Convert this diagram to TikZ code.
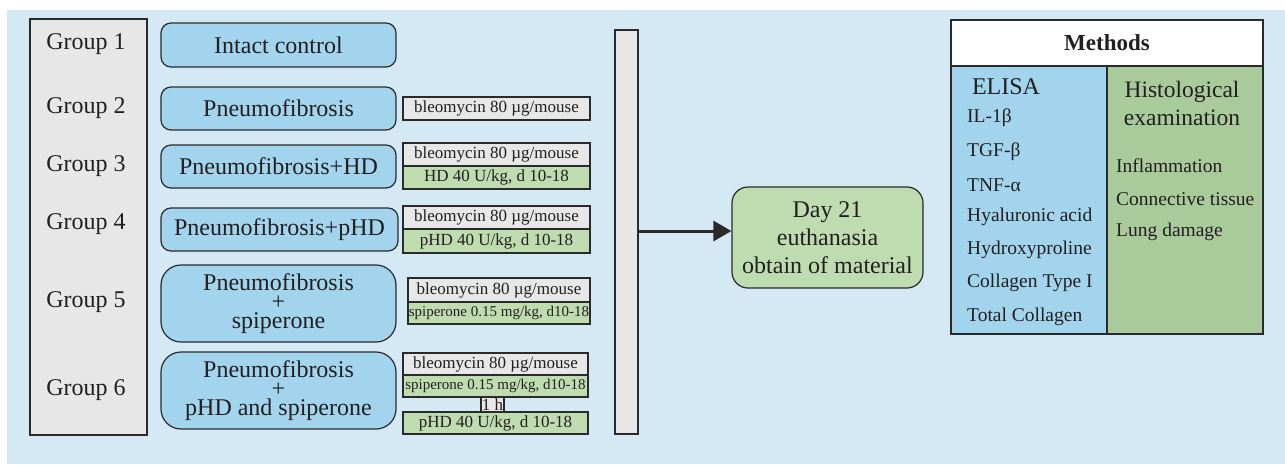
\documentclass[tikz,border=0pt]{standalone}
\usepackage{fontspec}
\setmainfont{Liberation Serif}
\usetikzlibrary{arrows.meta}
\definecolor{bgblue}{HTML}{D5E9F5}
\definecolor{boxblue}{HTML}{A3D4EE}
\definecolor{boxgray}{HTML}{E7E7E7}
\definecolor{lblgreen}{HTML}{BEDCAF}
\definecolor{methgreen}{HTML}{A9CA9A}
\definecolor{dark}{HTML}{2A2A2A}
\definecolor{txt}{HTML}{231F20}
\newcommand{\fs}[2]{\fontsize{#1}{#2}\selectfont}
\tikzset{
  base/.style={draw=dark, line width=1.2pt, inner sep=0pt, text=txt, align=center},
  grpbox/.style={base, fill=boxgray},
  blbox/.style={base, fill=boxblue, rounded corners=10pt, font=\fs{24}{19}},
  lblw/.style={base, fill=boxgray, font=\fs{17}{20}},
  lblg/.style={base, fill=lblgreen, font=\fs{17}{20}},
  lblgs/.style={base, fill=lblgreen, font=\fs{15}{18}},
  grplbl/.style={text=txt, font=\fs{24}{28}, inner sep=0pt},
  mitem/.style={text=txt, font=\fs{19.5}{22}, inner sep=0pt, anchor=west},
}
\begin{document}
\begin{tikzpicture}[x=1pt,y=-1pt]
\useasboundingbox (0,0) rectangle (1285,464);
\fill[bgblue] (7,10) rectangle (1285,464);
% group column
\node[grpbox, minimum width=117pt, minimum height=416pt] (grp) at (88.5,227) {};
\node[grplbl] (g1) at (86,44) {Group 1};
\node[grplbl] (g2) at (86,108) {Group 2};
\node[grplbl] (g3) at (86,166) {Group 3};
\node[grplbl] (g4) at (86,224) {Group 4};
\node[grplbl] (g5) at (86,302) {Group 5};
\node[grplbl] (g6) at (86,390) {Group 6};
% blue boxes
\node[blbox, minimum width=235pt, minimum height=44pt] (b1) at (278.5,45) {Intact control};
\node[blbox, minimum width=235pt, minimum height=43pt] (b2) at (278.5,108.5) {Pneumofibrosis};
\node[blbox, minimum width=235pt, minimum height=43pt] (b3) at (278.5,166.5) {Pneumofibrosis+HD};
\node[blbox, minimum width=237pt, minimum height=43pt] (b4) at (279.5,229.5) {Pneumofibrosis+pHD};
\node[blbox, rounded corners=20pt, minimum width=235pt, minimum height=77pt] (b5) at (278.5,303.5) {Pneumofibrosis\\+\\spiperone};
\node[blbox, rounded corners=20pt, minimum width=235pt, minimum height=77pt] (b6) at (278.5,390.5) {Pneumofibrosis\\+\\pHD and spiperone};
% label boxes
\node[lblw, minimum width=187pt, minimum height=23pt] (l2) at (496.5,108.5) {bleomycin 80 µg/mouse};
\node[lblw, minimum width=187pt, minimum height=23pt] (l3a) at (496.5,154.5) {bleomycin 80 µg/mouse};
\node[lblg, minimum width=187pt, minimum height=23pt] (l3b) at (496.5,177.5) {HD 40 U/kg, d 10-18};
\node[lblw, minimum width=187pt, minimum height=23pt] (l4a) at (496.5,217.5) {bleomycin 80 µg/mouse};
\node[lblg, minimum width=187pt, minimum height=24pt] (l4b) at (496.5,241) {pHD 40 U/kg, d 10-18};
\node[lblw, minimum width=182pt, minimum height=24pt] (l5a) at (499,290) {bleomycin 80 µg/mouse};
\node[lblgs, minimum width=182pt, minimum height=22pt] (l5b) at (499,313) {spiperone 0.15 mg/kg, d10-18};
\node[lblw, minimum width=185pt, minimum height=22pt] (l6a) at (495.5,364) {bleomycin 80 µg/mouse};
\node[lblgs, minimum width=185pt, minimum height=22pt] (l6b) at (495.5,386) {spiperone 0.15 mg/kg, d10-18};
\node[lblw, minimum width=23pt, minimum height=15pt] (l6h) at (492.5,404.5) {1 h};
\node[lblg, minimum width=185pt, minimum height=22pt] (l6c) at (495.5,423) {pHD 40 U/kg, d 10-18};
% bar, arrow, day box
\node[grpbox, minimum width=23pt, minimum height=404pt] (bar) at (626.5,232) {};
\node[base, fill=lblgreen, rounded corners=16pt, minimum width=191pt, minimum height=101pt, font=\fs{24}{28}] (day) at (827.5,237.5) {Day 21\\euthanasia\\obtain of material};
\coordinate (ay) at (680,231);
\draw[dark, line width=3pt, -{Triangle[length=18pt,width=20pt]}] (bar.east |- ay) -- (day.west |- ay);
% methods
\node[base, fill=white, minimum width=312pt, minimum height=46pt, font=\bfseries\fs{23}{26}] (mh) at (1107,43) {Methods};
\node[base, fill=boxblue, minimum width=156pt, minimum height=268pt] (ml) at (1029,200) {};
\node[base, fill=methgreen, minimum width=156pt, minimum height=268pt] (mr) at (1185,200) {};
\node[text=txt, font=\fs{24}{28}, inner sep=0pt] (elisa) at (1006,87) {ELISA};
\node[mitem] (e1) at (967,118) {IL-1β};
\node[mitem] (e2) at (967,152) {TGF-β};
\node[mitem] (e3) at (967,185) {TNF-α};
\node[mitem] (e4) at (967,217) {Hyaluronic acid};
\node[mitem] (e5) at (967,250) {Hydroxyproline};
\node[mitem] (e6) at (967,283) {Collagen Type I};
\node[mitem] (e7) at (967,317) {Total Collagen};
\node[text=txt, font=\fs{23.5}{28}, inner sep=0pt, align=center] (hist) at (1182,103) {Histological\\examination};
\node[mitem] (h1) at (1116,166) {Inflammation};
\node[mitem] (h2) at (1116,199) {Connective tissue};
\node[mitem] (h3) at (1116,232) {Lung damage};
\end{tikzpicture}
\end{document}
